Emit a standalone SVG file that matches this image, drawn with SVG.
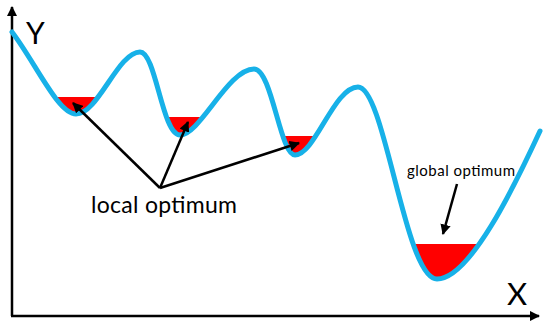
<svg xmlns="http://www.w3.org/2000/svg" width="550" height="329" viewBox="0 0 550 329">
  <style>
    .curve { fill: none; stroke: #17b1e8; stroke-width: 5; stroke-linecap: round; stroke-linejoin: round; }
    .pool { fill: #ff0000; }
    .axis { fill: none; stroke: #000; stroke-width: 2.5; }
    .arrow { fill: none; stroke: #000; stroke-width: 2.5; }
    .lbl { font-family: Lato, "Liberation Sans", Arial, sans-serif; fill: #000; }
  </style>
  <defs>
    <marker id="ah" viewBox="0 0 10 10" refX="9" refY="5" markerWidth="4.2" markerHeight="4.2" markerUnits="strokeWidth" orient="auto">
      <path d="M0,0 L10,5 L0,10 Z" fill="#000"/>
    </marker>
    <clipPath id="abovecurve">
      <path d="M12,32 C35,62 58,114 76,114 C98,114 118,52 140,52 C156,52 162,135 180,135 C200,135 228,69 254,69 C272,69 280,155 295,155 C315,155 334,87 358,87 C385,87 405,279 437,279 C470,279 515,185 540,131 L540,0 L12,0 Z"/>
    </clipPath>
  </defs>

  <g id="axes">
    <line class="axis" x1="12" y1="316" x2="12" y2="7" marker-end="url(#ah)"/>
    <line class="axis" x1="11" y1="316" x2="539" y2="316" marker-end="url(#ah)"/>
    <text class="lbl" x="26" y="44" font-size="30">Y</text>
    <text class="lbl" x="507" y="305" font-size="31">X</text>
  </g>

  <g id="pools" clip-path="url(#abovecurve)">
    <rect id="pool1" class="pool" x="50" y="97" width="60" height="40"/>
    <rect id="pool2" class="pool" x="158" y="117" width="58" height="40"/>
    <rect id="pool3" class="pool" x="278" y="136" width="42" height="40"/>
    <rect id="pool4" class="pool" x="400" y="244" width="95" height="50"/>
  </g>

  <g id="curve">
    <path class="curve" d="M12,32 C35,62 58,114 76,114 C98,114 118,52 140,52 C156,52 162,135 180,135 C200,135 228,69 254,69 C272,69 280,155 295,155 C315,155 334,87 358,87 C385,87 405,279 437,279 C470,279 515,185 540,131"/>
  </g>

  <g id="local-optimum">
    <text class="lbl" x="91" y="213" font-size="23" textLength="146" lengthAdjust="spacing">local optimum</text>
  </g>
  <g id="global-optimum">
    <text class="lbl" x="407" y="176" font-size="15" textLength="108" lengthAdjust="spacing">global optimum</text>
  </g>

  <g id="connectors">
    <line class="arrow" x1="160" y1="188" x2="73" y2="103" marker-end="url(#ah)"/>
    <line class="arrow" x1="160" y1="188" x2="188" y2="122" marker-end="url(#ah)"/>
    <line class="arrow" x1="160" y1="188" x2="299" y2="143" marker-end="url(#ah)"/>
    <line class="arrow" x1="457" y1="184" x2="443" y2="234" marker-end="url(#ah)"/>
  </g>
</svg>
